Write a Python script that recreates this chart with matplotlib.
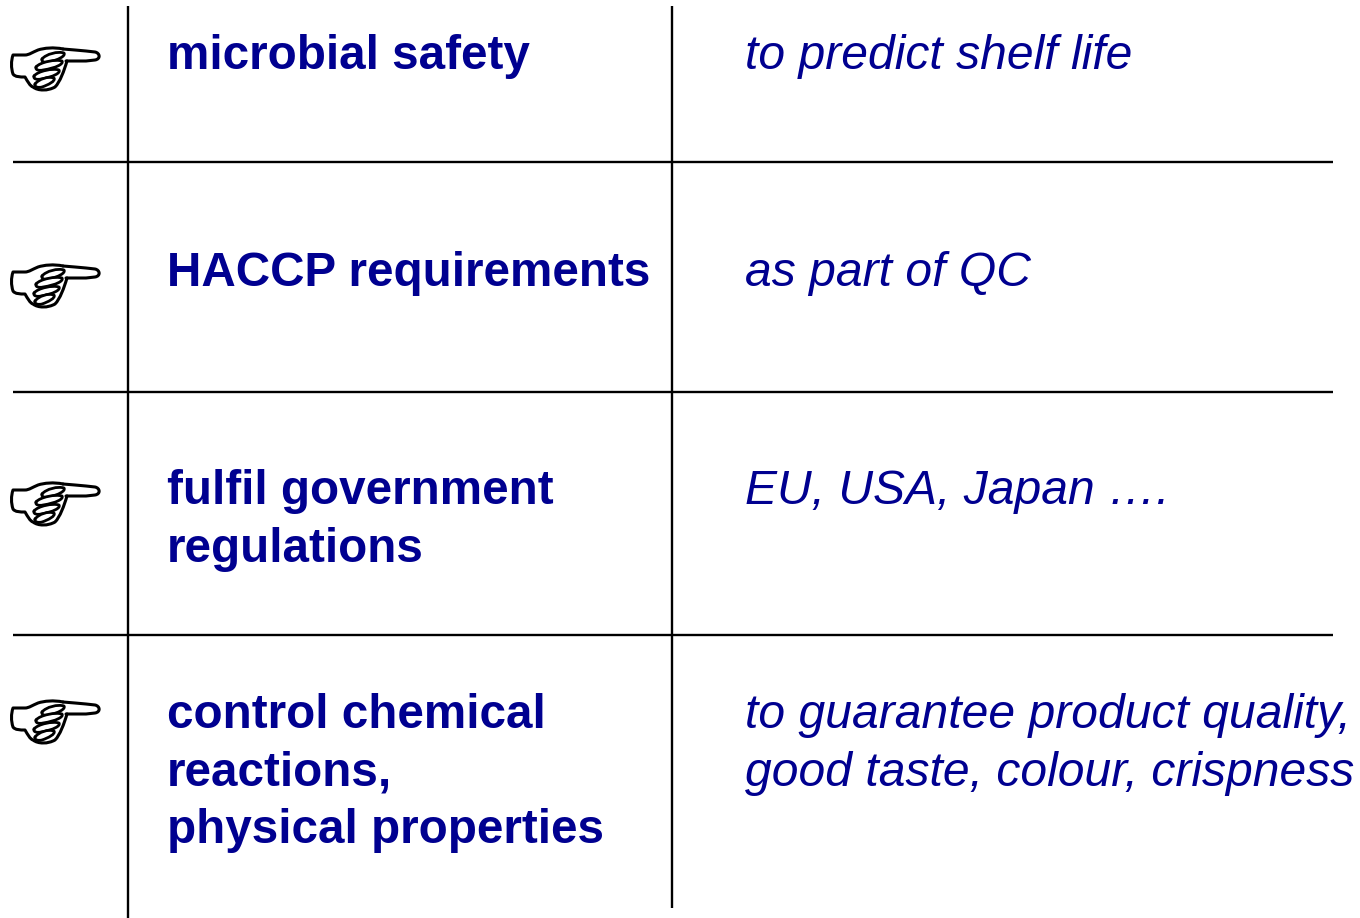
import matplotlib
matplotlib.use("Agg")
import matplotlib.pyplot as plt
from matplotlib.patches import PathPatch
from matplotlib.path import Path

W, H = 1360, 918
left_labels = ["microbial safety", "HACCP requirements", "fulfil government\nregulations", "control chemical\nreactions,\nphysical properties"]
right_labels = ["to predict shelf life", "as part of QC", "EU, USA, Japan \u2026.", "to guarantee product quality,\ngood taste, colour, crispness"]
text_tops = [51.5, 268.5, 486.5, 710.5]
hand_y = [56, 273, 491, 709]
h_lines = [162, 392, 635]
NAVY = "#000090"
FS_LEFT = 34.3
FS_RIGHT = 34.6

fig = plt.figure(figsize=(W/100, H/100), dpi=100)
ax = fig.add_axes([0, 0, 1, 1])
ax.set_xlim(0, W); ax.set_ylim(H, 0); ax.axis("off")

for y in h_lines:
    ax.plot([13, 1333], [y, y], color="black", lw=1.7, solid_capstyle="butt")
ax.plot([128, 128], [6, 918], color="black", lw=1.7, solid_capstyle="butt")
ax.plot([672, 672], [6, 908], color="black", lw=1.7, solid_capstyle="butt")

LINE = 57.5
for lab, rl, y in zip(left_labels, right_labels, text_tops):
    for i, t in enumerate(lab.split("\n")):
        ax.text(167, y + i*LINE, t, family="Liberation Sans", weight="bold", fontsize=FS_LEFT, color=NAVY, va="center_baseline", ha="left")
    for i, t in enumerate(rl.split("\n")):
        ax.text(745, y + i*LINE, t, family="Liberation Sans", style="italic", fontsize=FS_RIGHT, color=NAVY, va="center_baseline", ha="left")

M, L, C = Path.MOVETO, Path.LINETO, Path.CURVE4

def stroke(pts, codes, cy, lw=2.2, fc="none", z=3):
    ax.add_patch(PathPatch(Path([(a, cy + b) for a, b in pts], codes), fc=fc, ec="black", lw=lw, zorder=z, capstyle="round", joinstyle="round"))

def hand(cy):
    # outline, relative to the centre of the index finger
    stroke([(63, -7), (54, -9), (44, -8), (38, -6), (33, -4), (29, -1), (25, -1), (20, -1), (16, -1), (13, -1),
            (11, 5), (11, 12), (13, 18), (15, 21), (20, 21), (25, 21), (28, 26), (30, 30), (33, 31),
            (38, 35), (48, 35), (55, 31), (60, 26), (64, 15), (67, 5)],
           [M, C, C, C, C, C, C, L, L, L, C, C, C, C, C, C, C, C, C, C, C, C, C, C, C], cy)
    # index finger
    stroke([(63, -7), (75, -6), (86, -5), (95, -4), (100, -3), (101, 3), (95, 4), (86, 5), (75, 5), (66, 5)],
           [M, L, L, L, C, C, C, L, L, L], cy)
    # curled fingers
    for a, b, c in [(42, 1, 64), (36, 9, 62), (34, 18, 59), (35, 26, 54)]:
        stroke([(a, b + 2), (a + 4, b - 3), (c - 6, b - 6), (c, b - 4), (c + 2, b - 1), (c - 6, b + 3), (a + 7, b + 5),
                (a + 3, b + 6), (a - 1, b + 5), (a, b + 2)],
               [M, C, C, C, C, C, C, C, C, C], cy, lw=2.0, fc="white", z=4)

for y in hand_y:
    hand(y)

fig.savefig("out.png", dpi=100)
